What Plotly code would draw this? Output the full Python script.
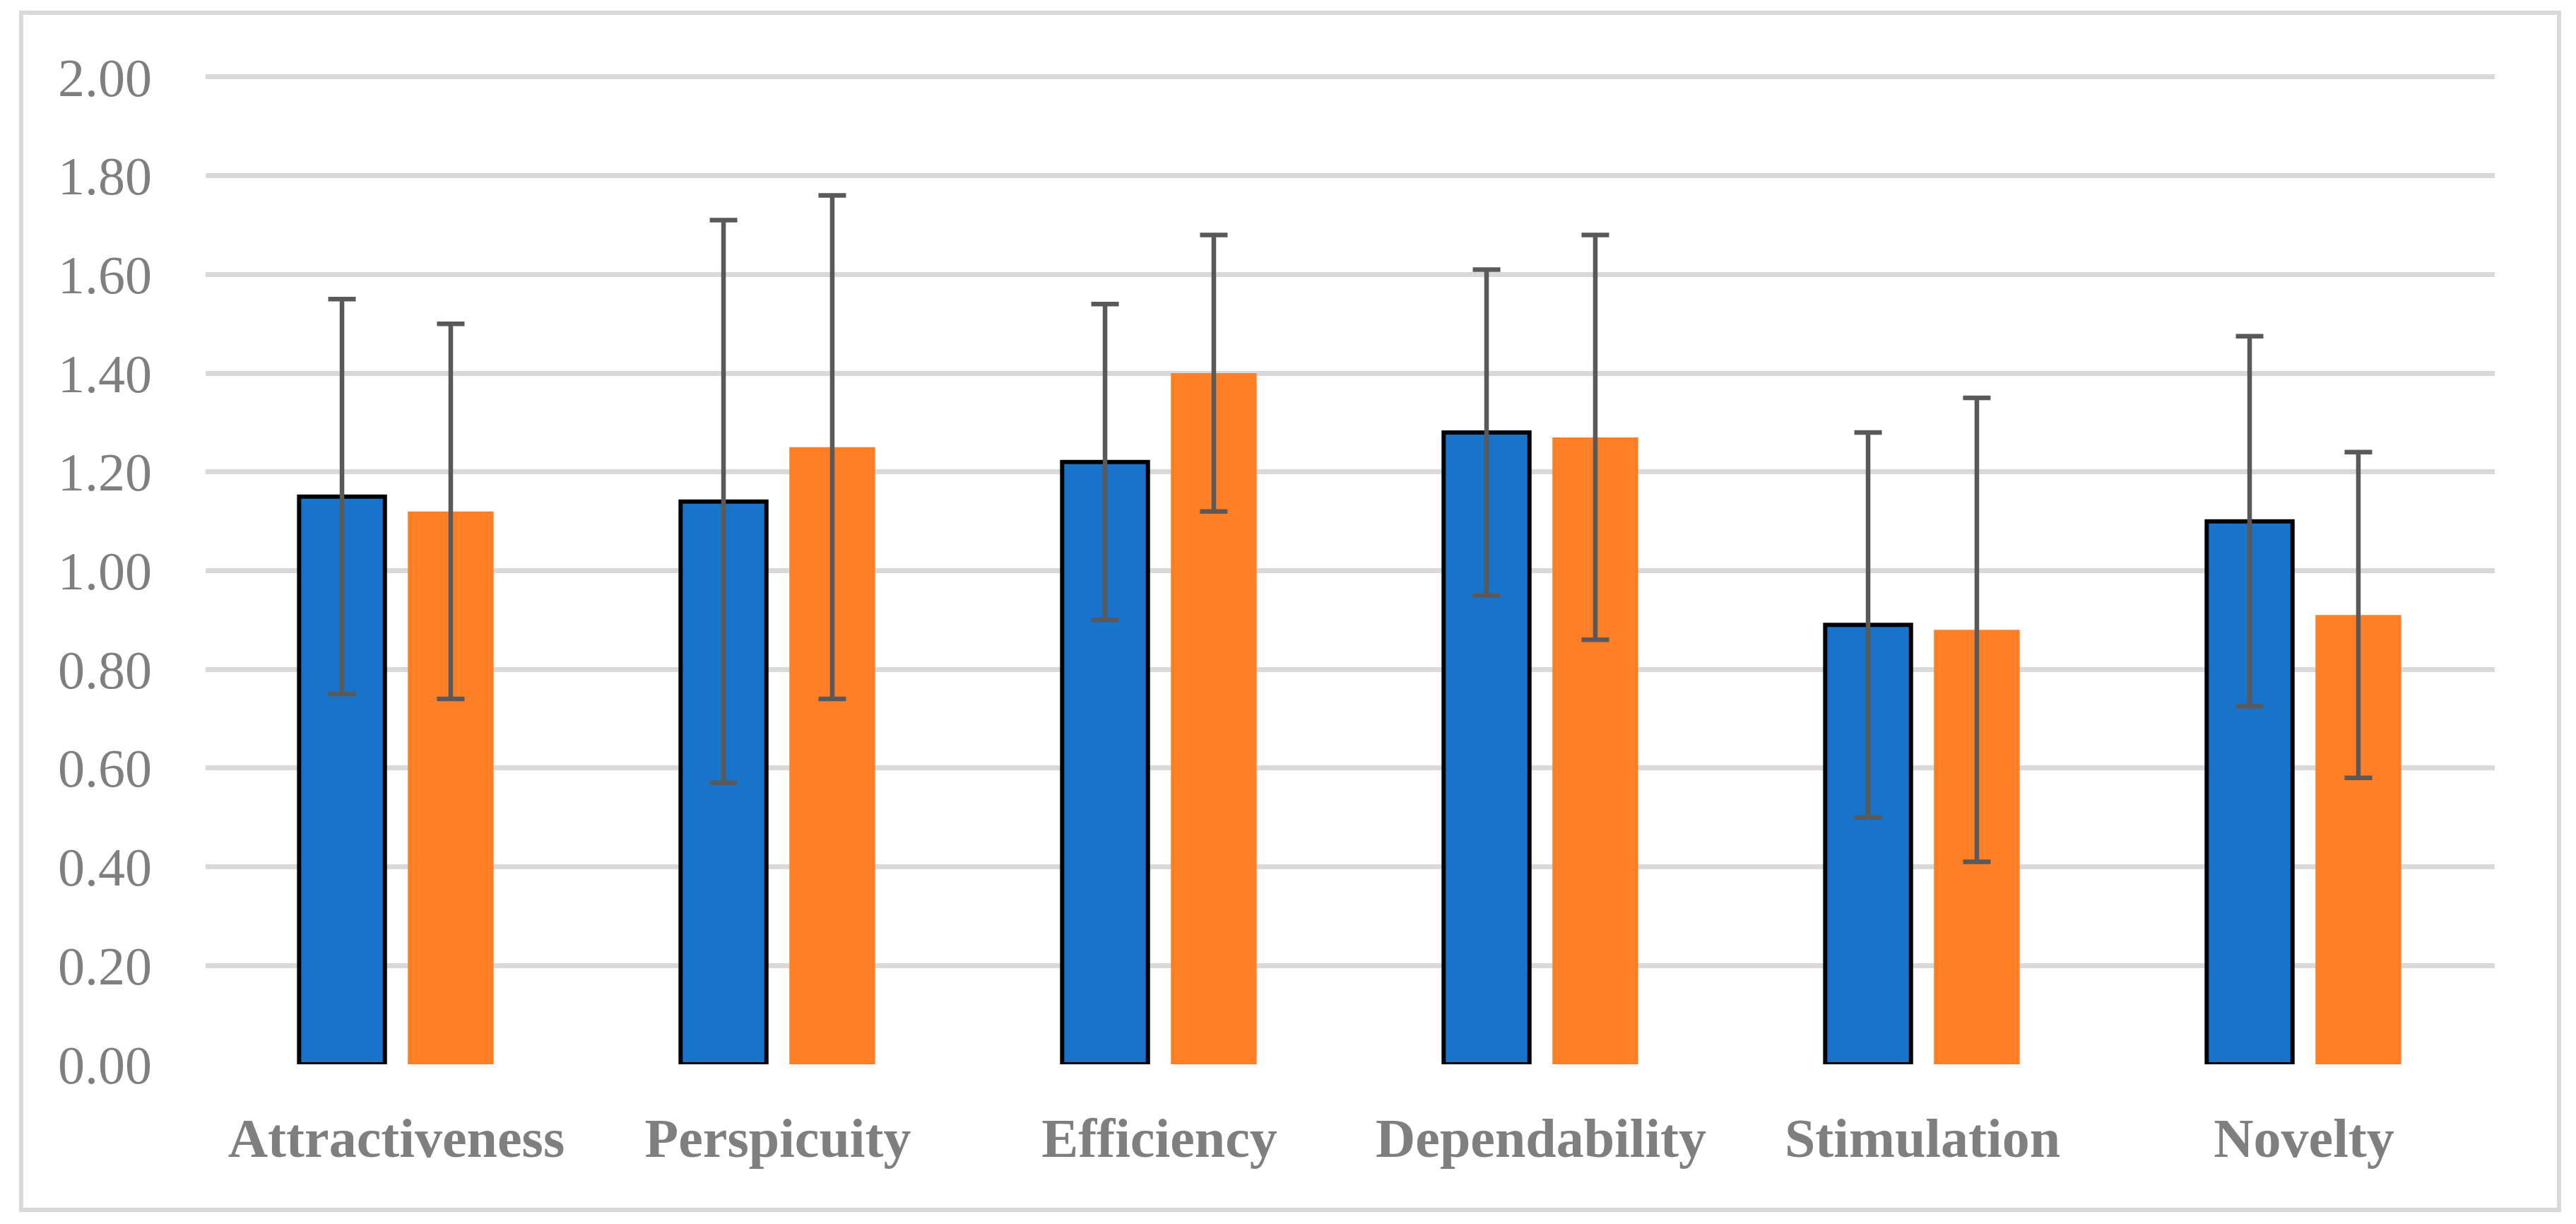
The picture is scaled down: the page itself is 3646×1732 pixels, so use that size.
import plotly.graph_objects as go

categories = ["Attractiveness", "Perspicuity", "Efficiency", "Dependability", "Stimulation", "Novelty"]
series_a = [1.15, 1.14, 1.22, 1.28, 0.89, 1.10]
series_a_err = [0.40, 0.57, 0.32, 0.33, 0.39, 0.375]
series_b = [1.12, 1.25, 1.40, 1.27, 0.88, 0.91]
series_b_err = [0.38, 0.51, 0.28, 0.41, 0.47, 0.33]
y_ticks = [0.0, 0.2, 0.4, 0.6, 0.8, 1.0, 1.2, 1.4, 1.6, 1.8, 2.0]

W, H = 3646, 1732
ML, MR, MT, MB = 291, 115, 95, 226

ERR_COLOR = "#595959"
TXT = "#7f7f7f"
GRID = "#d9d9d9"
FONT = "Liberation Serif"

fig = go.Figure()
fig.add_trace(go.Bar(
    x=categories, y=series_a,
    marker=dict(color="#1874CA", line=dict(color="#000000", width=6)),
    error_y=dict(type="data", array=series_a_err, visible=True,
                 color=ERR_COLOR, thickness=6.5, width=19.5),
    name="A",
))
fig.add_trace(go.Bar(
    x=categories, y=series_b,
    marker=dict(color="#FF7F27", line=dict(width=0)),
    error_y=dict(type="data", array=series_b_err, visible=True,
                 color=ERR_COLOR, thickness=6.5, width=19.5),
    name="B",
))

# outer light-gray frame
pw = W - ML - MR
ph = H - MT - MB
x0 = (30 - ML) / pw
x1 = (3622 - ML) / pw
y1 = (H - MB - 18) / ph
y0 = (H - MB - 1712) / ph
fig.add_shape(type="rect", xref="paper", yref="paper", x0=x0, x1=x1, y0=y0, y1=y1,
              line=dict(color=GRID, width=6), fillcolor="rgba(0,0,0,0)", layer="below")

fig.update_layout(
    width=W, height=H,
    margin=dict(l=ML, r=MR, t=MT, b=MB, pad=0),
    paper_bgcolor="white", plot_bgcolor="white",
    barmode="group", bargap=0.43, bargroupgap=0.211,
    showlegend=False,
    xaxis=dict(
        showgrid=False, zeroline=False, showline=False, ticks="",
        tickfont=dict(family=FONT, size=78, color=TXT, weight="bold"),
        ticklabelstandoff=52,
    ),
    yaxis=dict(
        range=[0, 2.02], tickvals=y_ticks,
        ticktext=[f"{v:.2f}" for v in y_ticks],
        showgrid=True, gridcolor=GRID, gridwidth=7,
        zeroline=False, showline=False, ticks="",
        tickfont=dict(family=FONT, size=76, color=TXT),
        ticklabelstandoff=75,
    ),
)

fig.write_html("out.html", config={"displayModeBar": False},
               post_script="document.body.style.margin='0';")
